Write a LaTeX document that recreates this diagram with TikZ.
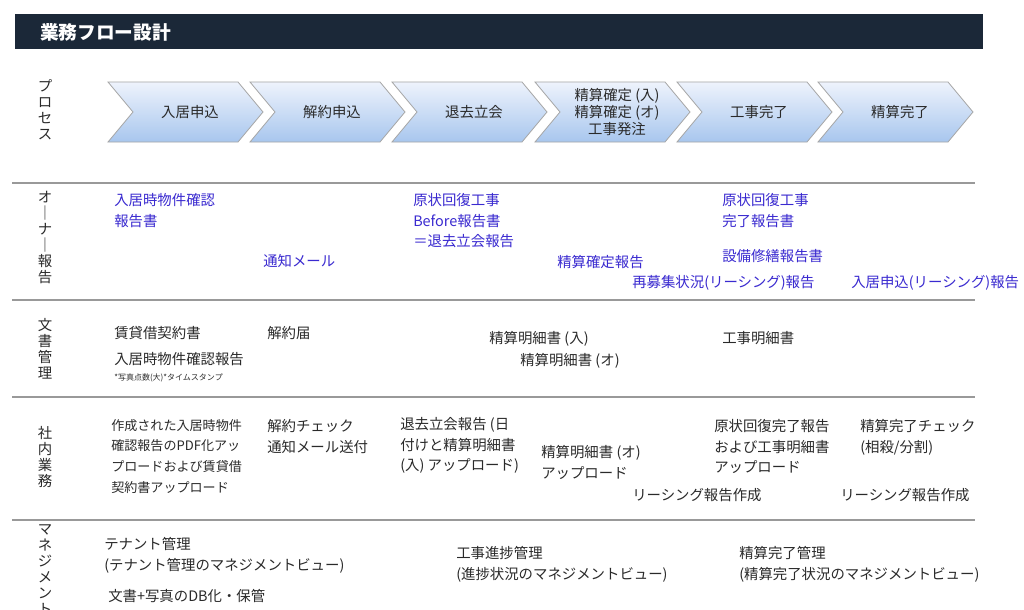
\documentclass[tikz,border=0pt]{standalone}
\usepackage{fontspec}
\setmainfont{Noto Sans CJK JP}
\usetikzlibrary{shapes.geometric}
\definecolor{navy}{HTML}{1B2838}
\definecolor{own}{HTML}{3A2AD0}
\definecolor{txt}{HTML}{2A2A2A}
\definecolor{cTop}{HTML}{EEF3FC}
\definecolor{cBot}{HTML}{A8C6EE}
\tikzset{
 t/.style={anchor=north west,align=left,inner sep=0pt,font=\fontsize{10.8pt}{15.5pt}\selectfont,text=txt},
 o/.style={t,text=own},
 side/.style={align=center,inner sep=0pt,font=\fontsize{10.8pt}{12pt}\selectfont,text=txt},
 sep/.style={draw=gray!80,line width=1pt},
 chev/.style={top color=cTop,bottom color=cBot,draw=gray!70,line width=0.6pt},
 ctext/.style={align=center,inner sep=0pt,font=\fontsize{10.8pt}{13pt}\selectfont,text=txt}
}
\begin{document}
\begin{tikzpicture}[x=0.75pt,y=-0.75pt]
\useasboundingbox (0,0) rectangle (1024,610);
\fill[white] (0,0) rectangle (1024,610);
\fill[navy] (15,14) rectangle (983,49);
\node[anchor=west,text=white,font=\fontsize{14pt}{16pt}\selectfont\bfseries,inner sep=0pt] (title) at (40,32) {業務フロー設計};
% chevrons
\foreach \x/\lab [count=\i] in {108/入居申込,250/解約申込,392/退去立会,535/{精算確定 (入)\\精算確定 (オ)\\工事発注},677/工事完了,818/精算完了}{
 \path[chev] (\x,82) -- (\x+130,82) -- (\x+155,112) -- (\x+130,142) -- (\x,142) -- (\x+25,112) -- cycle;
 \node[ctext] (p\i) at (\x+82,112) {\lab};
}
% separators
\foreach \y in {183,300,397,520}{\draw[sep] (12,\y) -- (975,\y);}
% side labels
\node[side] (s1) at (45,110) {プ\\ロ\\セ\\ス};
\node[side] (s2) at (45,238) {オ\\｜\\ナ\\｜\\報\\告};
\node[side] (s3) at (45,349) {文\\書\\管\\理};
\node[side] (s4) at (45,457) {社\\内\\業\\務};
\node[side,anchor=north] (s5) at (45,524) {マ\\ネ\\ジ\\メ\\ン\\ト};
% owner row
\node[o] (o1) at (114,193) {入居時物件確認\\報告書};
\node[o] (o2) at (263,254) {通知メール};
\node[o] (o3) at (413,193) {原状回復工事\\Before報告書\\＝退去立会報告};
\node[o] (o4) at (557,255) {精算確定報告};
\node[o] (o5) at (722,193) {原状回復工事\\完了報告書};
\node[o] (o6) at (722,249) {設備修繕報告書};
\node[o] (o7) at (632,275) {再募集状況(リーシング)報告};
\node[o] (o8) at (851,275) {入居申込(リーシング)報告};
% documents
\node[t] (d1) at (114,326) {賃貸借契約書};
\node[t] (d2) at (267,326) {解約届};
\node[t] (d3) at (114,352) {入居時物件確認報告};
\node[t,font=\fontsize{6pt}{7pt}\selectfont] (d4) at (114,374) {*写真点数(大)*タイムスタンプ};
\node[t] (d5) at (489,331) {精算明細書 (入)};
\node[t] (d6) at (520,353) {精算明細書 (オ)};
\node[t] (d7) at (722,331) {工事明細書};
% internal
\node[t,font=\fontsize{9.8pt}{15.5pt}\selectfont] (i1) at (111,419) {作成された入居時物件\\確認報告のPDF化アッ\\プロードおよび賃貸借\\契約書アップロード};
\node[t] (i2) at (267,419) {解約チェック\\通知メール送付};
\node[t] (i3) at (400,417) {退去立会報告 (日\\付けと精算明細書\\(入) アップロード)};
\node[t] (i4) at (541,445) {精算明細書 (オ)\\アップロード};
\node[t] (i5) at (632,488) {リーシング報告作成};
\node[t] (i6) at (714,419) {原状回復完了報告\\および工事明細書\\アップロード};
\node[t] (i7) at (860,419) {精算完了チェック\\ (相殺/分割)};
\node[t] (i8) at (840,488) {リーシング報告作成};
% management
\node[t] (m1) at (104,537) {テナント管理\\(テナント管理のマネジメントビュー)};
\node[t] (m2) at (108,589) {文書+写真のDB化・保管};
\node[t] (m3) at (456,546) {工事進捗管理\\(進捗状況のマネジメントビュー)};
\node[t] (m4) at (739,546) {精算完了管理\\(精算完了状況のマネジメントビュー)};
\end{tikzpicture}
\end{document}
